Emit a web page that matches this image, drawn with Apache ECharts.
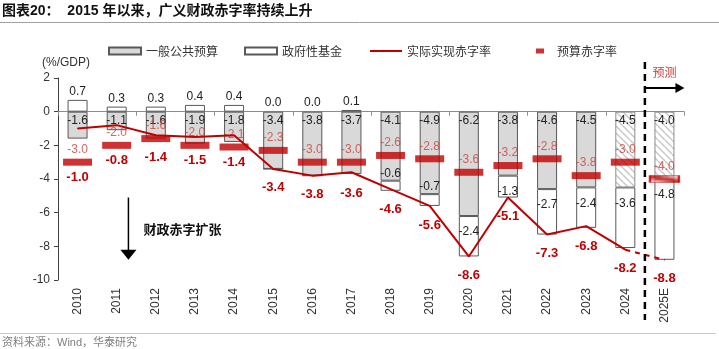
<!DOCTYPE html>
<html><head><meta charset="utf-8">
<script src="https://cdn.jsdelivr.net/npm/echarts@6/dist/echarts.min.js"></script>
<style>html,body{margin:0;padding:0;background:#fff}#c{width:719px;height:349px}</style>
</head><body><div id="c"></div>
<script>
const categories = ['2010','2011','2012','2013','2014','2015','2016','2017','2018','2019','2020','2021','2022','2023','2024','2025E'];
const generalBudget = [-1.6,-1.1,-1.6,-1.9,-1.8,-3.4,-3.8,-3.7,-4.1,-4.9,-6.2,-3.8,-4.6,-4.5,-4.5,-4.0];
const govFund = [0.7,0.3,0.3,0.4,0.4,0.0,0.0,0.1,-0.6,-0.7,-2.4,-1.3,-2.7,-2.4,-3.6,-4.8];
const actualDeficit = [-1.0,-0.8,-1.4,-1.5,-1.4,-3.4,-3.8,-3.6,-4.6,-5.6,-8.6,-5.1,-7.3,-6.8,-8.2,-8.8];
const budgetDeficit = [-3.0,-2.0,-1.6,-2.0,-2.1,-2.3,-3.0,-3.0,-2.6,-2.8,-3.6,-3.2,-2.8,-3.8,-3.0,-4.0];
const hatchedGeneral = ['2024','2025E'];
const hatchedBudget = ['2025E'];
const forecastStart = '2025E';
const yMin = -10, yMax = 2, yInterval = 2;

const RED = '#c00000', LRED = '#c8413b', NUMF = '"Liberation Sans", Arial, sans-serif', CJK = '"Noto Sans CJK SC", sans-serif';

function stripes(fg, bg, lw, n) {
  const c = document.createElement('canvas'); c.width = n; c.height = n;
  const g = c.getContext('2d');
  g.fillStyle = bg; g.fillRect(0, 0, n, n);
  g.strokeStyle = fg; g.lineWidth = lw; g.beginPath();
  for (let k = -n; k <= n; k += n) { g.moveTo(k, 0); g.lineTo(k + n, n); }
  g.stroke();
  return c;
}
const grayHatch = stripes('#c4c4c4', '#ffffff', 1.3, 7);
const redHatch = stripes(RED, '#ffffff', 2.4, 6);

const fmt = v => (typeof v === 'object' ? v.value : v).toFixed(1);

const chart = echarts.init(document.getElementById('c'), null, {renderer: 'canvas'});

function buildOption(px, graphics) {
  const fundData = govFund.map((v, i) => {
    let label;
    if (v > 0) label = {position: 'top', distance: 2};
    else if (v === 0) label = {position: 'top', distance: 2, offset: [0, px ? px.zeroOff[i] : 0]};
    else if (v > -1) label = {position: 'top', distance: 1};
    else label = {position: 'insideTop', distance: 10};
    return {value: v, label};
  });
  const generalData = generalBudget.map((v, i) => hatchedGeneral.includes(categories[i])
    ? {value: v, itemStyle: {color: {image: grayHatch, repeat: 'repeat'}, borderColor: '#8c8c8c'}}
    : v);
  const budgetData = budgetDeficit.map((v, i) => hatchedBudget.includes(categories[i])
    ? {value: v, itemStyle: {color: {image: redHatch, repeat: 'repeat'}, borderColor: RED, borderWidth: 1.2}}
    : v);
  const fIdx = categories.indexOf(forecastStart);
  const off = i => [0, px ? px.lineOff[i] : 10];
  const solid = actualDeficit.map((v, i) => i < fIdx ? {value: v, label: {offset: off(i)}} : null);
  const dashed = actualDeficit.map((v, i) => i >= fIdx - 1 ? {value: v, label: {show: i >= fIdx, offset: off(i)}} : null);
  const lineLabel = {show: true, position: 'bottom', distance: 0, color: RED, fontFamily: NUMF, fontWeight: 'bold', fontSize: 13, formatter: p => p.value.toFixed(1)};
  return {
    animation: false,
    textStyle: {fontFamily: NUMF},
    grid: {left: 58, right: 35, top: 78, bottom: 69},
    legend: [
      {left: 103, top: 40, itemWidth: 32, itemHeight: 7, itemGap: 26, icon: 'rect', data: ['一般公共预算', '政府性基金'],
       textStyle: {fontFamily: CJK, fontSize: 12, color: '#333'}, selectedMode: false},
      {left: 365, top: 40, itemWidth: 32, itemHeight: 2, data: [{name: '实际实现赤字率', icon: 'rect'}],
       textStyle: {fontFamily: CJK, fontSize: 12, color: '#333'}, selectedMode: false},
      {left: 531, top: 40, itemWidth: 8, itemHeight: 5, data: [{name: '预算赤字率', icon: 'rect'}],
       textStyle: {fontFamily: CJK, fontSize: 12, color: '#333', padding: [0, 0, 0, 8]}, selectedMode: false}
    ],
    xAxis: [
      {type: 'category', data: categories, position: 'bottom',
       axisLine: {onZero: true, lineStyle: {color: '#8c8c8c', width: 1}},
       axisTick: {show: true, length: 4, lineStyle: {color: '#8c8c8c'}},
       axisLabel: {show: false}, splitLine: {show: false}},
      {type: 'category', data: categories, position: 'bottom',
       axisLine: {show: false, onZero: false}, axisTick: {show: false},
       axisLabel: {rotate: 90, fontSize: 12, color: '#333', margin: 8, fontFamily: NUMF}}
    ],
    yAxis: {type: 'value', min: yMin, max: yMax, interval: yInterval,
      axisLine: {show: true, lineStyle: {color: '#404040'}},
      axisTick: {show: true, length: 4, lineStyle: {color: '#404040'}},
      axisLabel: {fontSize: 12, color: '#333', margin: 8, fontFamily: NUMF},
      splitLine: {show: false}},
    series: [
      {name: '一般公共预算', type: 'bar', stack: 'total', barWidth: 20, data: generalData, z: 2,
       itemStyle: {color: '#d9d9d9', borderColor: '#595959', borderWidth: 1},
       label: {show: true, position: 'insideTop', distance: 3, color: '#222', fontSize: 12, fontFamily: NUMF, formatter: p => fmt(p.value)}},
      {name: '政府性基金', type: 'bar', stack: 'total', barWidth: 20, data: fundData, z: 2,
       itemStyle: {color: '#ffffff', borderColor: '#595959', borderWidth: 1},
       label: {show: true, color: '#222', fontSize: 12, fontFamily: NUMF, formatter: p => fmt(p.value)}},
      {name: '预算赤字率', type: 'scatter', symbol: 'rect', symbolSize: [29, 7], data: budgetData, z: 3,
       itemStyle: {color: RED},
       label: {show: true, position: 'top', distance: 3, color: LRED, fontSize: 12, fontFamily: NUMF, formatter: p => fmt(p.value)}},
      {name: '实际实现赤字率', type: 'line', symbol: 'circle', symbolSize: 1, showSymbol: true, data: solid, z: 4,
       lineStyle: {color: RED, width: 2}, itemStyle: {color: RED}, label: lineLabel},
      {name: '实际实现赤字率', type: 'line', symbol: 'circle', symbolSize: 1, showSymbol: true, data: dashed, z: 4,
       lineStyle: {color: RED, width: 2, type: [5, 5]}, itemStyle: {color: RED}, label: lineLabel}
    ],
    graphic: graphics || []
  };
}

chart.setOption(buildOption(null, null));

const yPix = v => chart.convertToPixel({yAxisIndex: 0}, v);
const xPix = i => chart.convertToPixel({xAxisIndex: 0}, categories[i]);

const lineOff = actualDeficit.map((v, i) => {
  const barBottom = generalBudget[i] + Math.min(govFund[i], 0);
  const low = Math.min(v, barBottom);
  const anchorIsMarker = budgetDeficit[i] < low;
  const anchor = anchorIsMarker ? budgetDeficit[i] : low;
  return yPix(anchor) - yPix(v) + (anchorIsMarker ? 15 : 19) - 7;
});
const zeroOff = govFund.map((v, i) => v === 0 ? yPix(0) - yPix(generalBudget[i]) : 0);

const fIdx = categories.indexOf(forecastStart);
const step = xPix(1) - xPix(0);
const dashX = (xPix(fIdx - 1) + xPix(fIdx)) / 2;
const yTop = yPix(yMax), yBot = yPix(yMin);
const arrowY = yTop + 10;
const fx = xPix(fIdx);
const ax = xPix(1) + 0.3 * step;
const aTop = yPix(-5.1), aTip = yPix(-8.8);

const graphics = [
  {type: 'text', x: 2, y: 11, z: 10, style: {text: '图表20：  2015 年以来，广义财政赤字率持续上升', font: 'bold 14px "Liberation Sans", "Noto Sans CJK SC", sans-serif', fill: '#111', verticalAlign: 'middle'}},
  {type: 'line', z: 10, shape: {x1: 0, y1: 22.5, x2: 719, y2: 22.5}, style: {stroke: '#a0a0a0', lineWidth: 1}},
  {type: 'line', z: 10, shape: {x1: 0, y1: 333.5, x2: 716, y2: 333.5}, style: {stroke: '#c8c8c8', lineWidth: 1}},
  {type: 'text', x: 2, y: 343, z: 10, style: {text: '资料来源：Wind，华泰研究', font: '11px "Liberation Sans", "Noto Sans CJK SC", sans-serif', fill: '#808080', verticalAlign: 'middle'}},
  {type: 'text', x: 42, y: 63, z: 10, style: {text: '(%/GDP)', font: '12px "Liberation Sans", sans-serif', fill: '#333', verticalAlign: 'middle'}},
  {type: 'line', z: 10, shape: {x1: dashX, y1: yTop - 16, x2: dashX, y2: yBot + 40}, style: {stroke: '#000', lineWidth: 2.5, lineDash: [7, 5]}},
  {type: 'text', x: fx, y: yTop - 6, z: 10, style: {text: '预测', font: '12px "Noto Sans CJK SC", sans-serif', fill: LRED, align: 'center', verticalAlign: 'middle'}},
  {type: 'line', z: 10, shape: {x1: dashX + 1, y1: arrowY, x2: fx + 12, y2: arrowY}, style: {stroke: '#000', lineWidth: 2}},
  {type: 'polygon', z: 10, shape: {points: [[fx + 11, arrowY - 5], [fx + 20, arrowY], [fx + 11, arrowY + 5]]}, style: {fill: '#000'}},
  {type: 'line', z: 10, shape: {x1: ax, y1: aTop, x2: ax, y2: aTip - 8}, style: {stroke: '#000', lineWidth: 1.5}},
  {type: 'polygon', z: 10, shape: {points: [[ax - 8, aTip - 10], [ax + 8, aTip - 10], [ax, aTip]]}, style: {fill: '#000'}},
  {type: 'text', x: ax + 15, y: yPix(-7), z: 10, style: {text: '财政赤字扩张', font: 'bold 13px "Noto Sans CJK SC", sans-serif', fill: '#111', verticalAlign: 'middle'}}
];

chart.setOption(buildOption({lineOff, zeroOff}, graphics), {notMerge: true});
</script>
</body></html>
